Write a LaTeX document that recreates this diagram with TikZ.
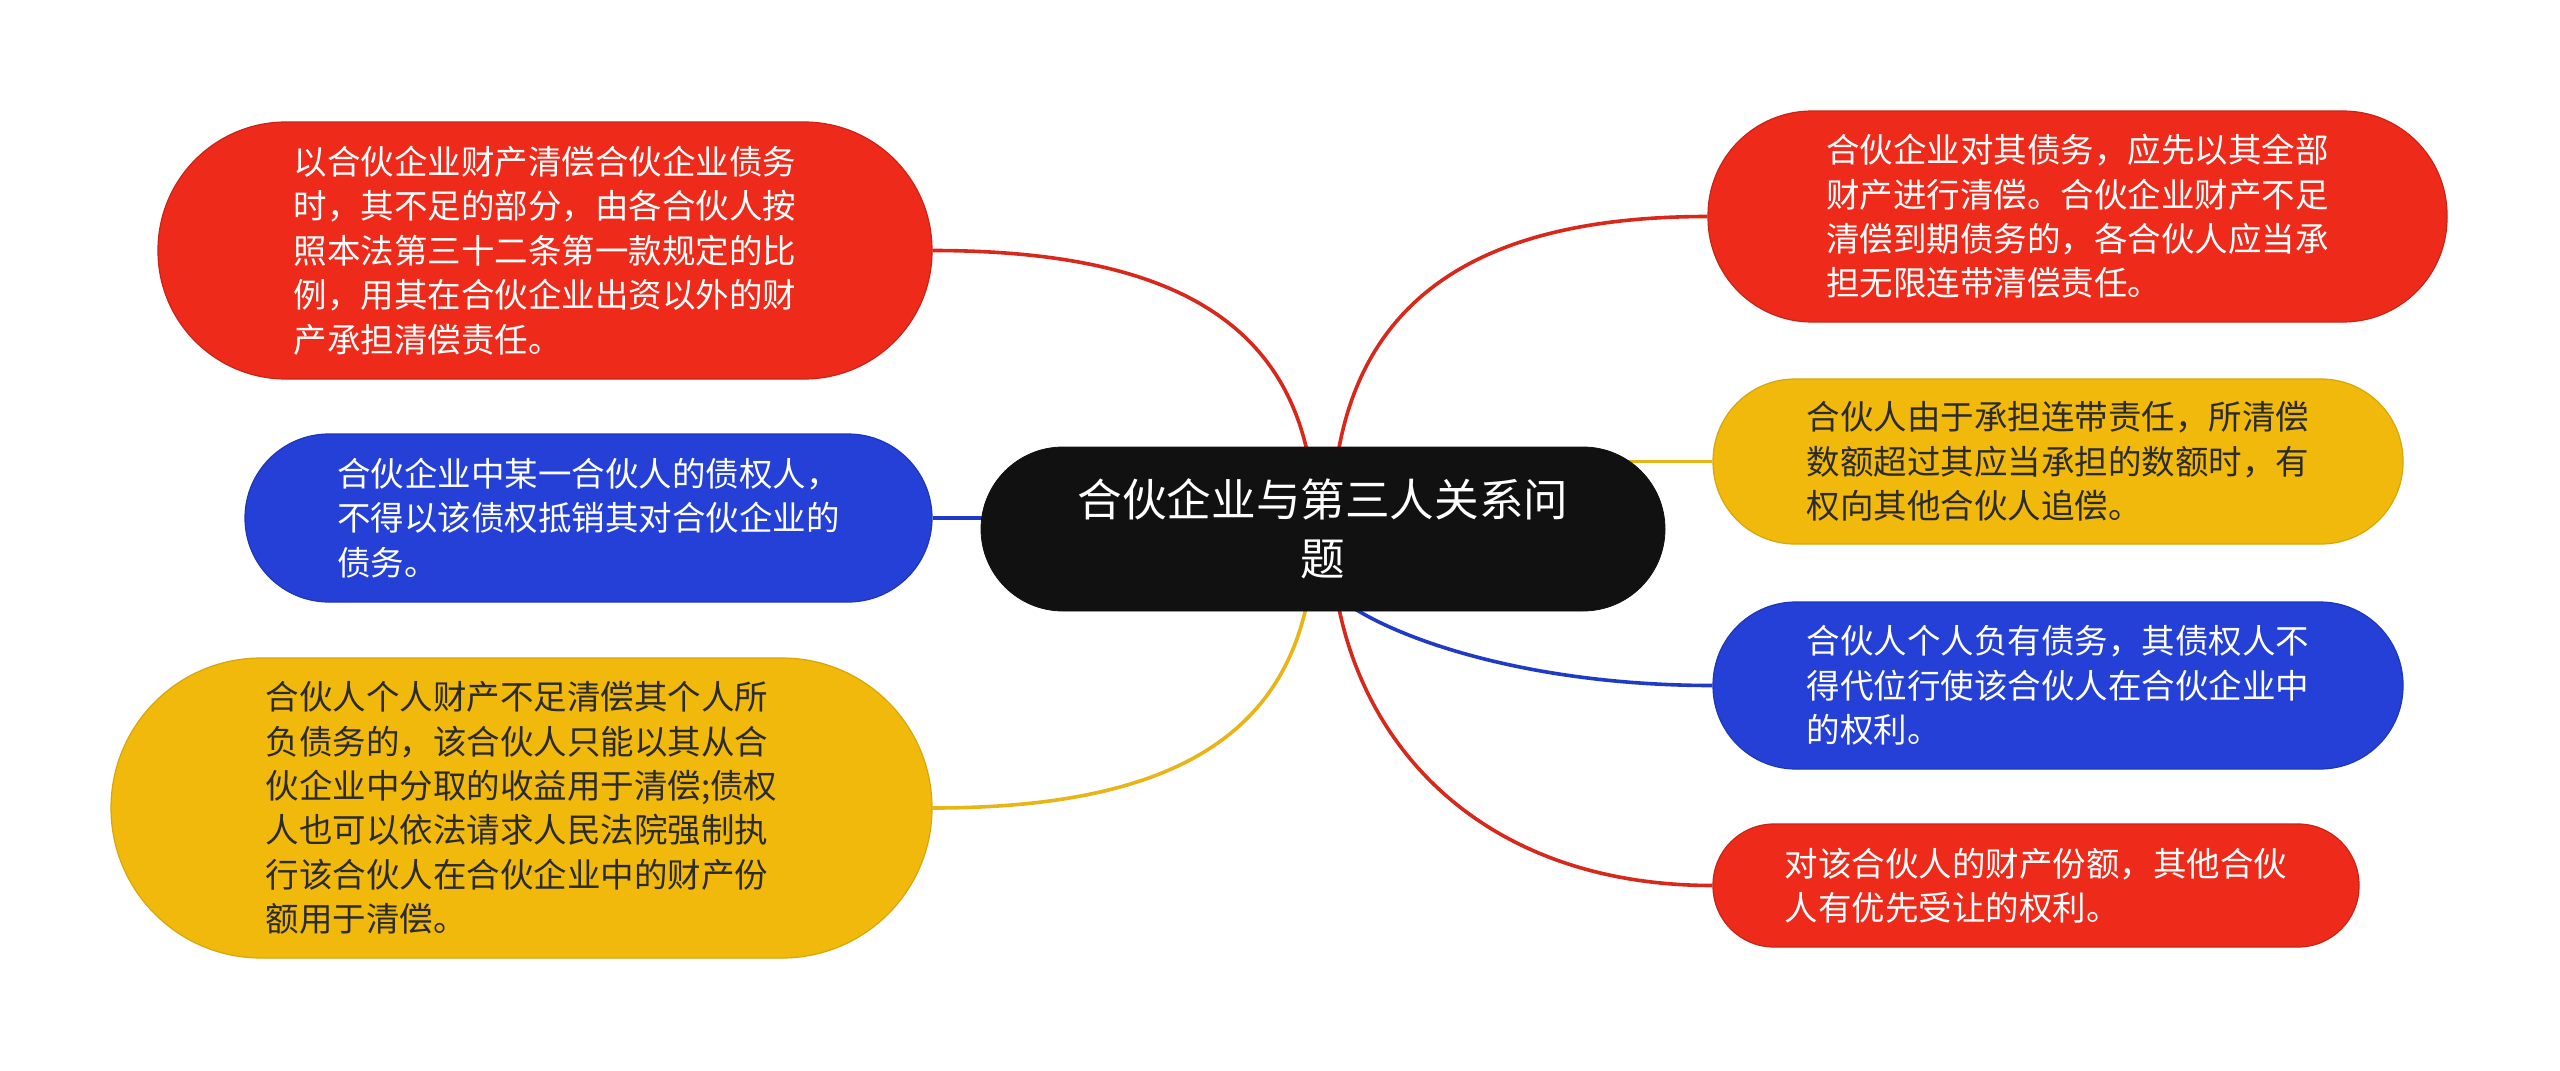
\documentclass[tikz,border=0pt]{standalone}
\usepackage{fontspec}
\setmainfont{Noto Sans CJK SC}
\usetikzlibrary{backgrounds}
\definecolor{cred}{HTML}{EE2A1B}
\definecolor{cblue}{HTML}{2440D6}
\definecolor{cyel}{HTML}{F0B90C}
\definecolor{croot}{HTML}{111111}
\definecolor{lred}{HTML}{D8281B}
\definecolor{lblue}{HTML}{1F3BC6}
\definecolor{lyel}{HTML}{E8B416}
\definecolor{ytext}{HTML}{2B2B2B}
\begin{document}
\begin{tikzpicture}[x=0.5pt,y=-0.5pt,
  box/.style={align=left, inner sep=0pt, font=\fontsize{16.75pt}{22.2pt}\selectfont, line width=0.6pt},
  redbox/.style={box, fill=cred, draw=cred!85!black, text=white},
  bluebox/.style={box, fill=cblue, draw=cblue!85!black, text=white},
  yelbox/.style={box, fill=cyel, draw=cyel!90!black, text=ytext},
  rootbox/.style={align=center, inner sep=0pt, fill=croot, draw=croot, text=white,
    font=\fontsize{22.3pt}{29.4pt}\selectfont},
  link/.style={line width=1.8pt}
]
\useasboundingbox (0,0) rectangle (2560,1071);

\node[rootbox, minimum width=342pt, minimum height=82pt, rounded corners=41pt] (root) at (1323,529)
  {合伙企业与第三人关系问\\题};

\node[redbox, minimum width=387pt, minimum height=128.5pt, rounded corners=64pt] (lt) at (545,250.5)
  {以合伙企业财产清偿合伙企业债务\\时，其不足的部分，由各合伙人按\\照本法第三十二条第一款规定的比\\例，用其在合伙企业出资以外的财\\产承担清偿责任。};
\node[bluebox, minimum width=343.5pt, minimum height=84pt, rounded corners=42pt] (lb) at (588.5,518)
  {合伙企业中某一合伙人的债权人，\\不得以该债权抵销其对合伙企业的\\债务。};
\node[yelbox, minimum width=410.5pt, minimum height=150pt, rounded corners=75pt] (ly) at (521.5,808)
  {合伙人个人财产不足清偿其个人所\\负债务的，该合伙人只能以其从合\\伙企业中分取的收益用于清偿;债权\\人也可以依法请求人民法院强制执\\行该合伙人在合伙企业中的财产份\\额用于清偿。};

\node[redbox, minimum width=369.5pt, minimum height=105.5pt, rounded corners=52pt] (rt) at (2077.5,216.5)
  {合伙企业对其债务，应先以其全部\\财产进行清偿。合伙企业财产不足\\清偿到期债务的，各合伙人应当承\\担无限连带清偿责任。};
\node[yelbox, minimum width=345pt, minimum height=82.5pt, rounded corners=41pt] (ry) at (2058,461.5)
  {合伙人由于承担连带责任，所清偿\\数额超过其应当承担的数额时，有\\权向其他合伙人追偿。};
\node[bluebox, minimum width=345pt, minimum height=83.5pt, rounded corners=41.5pt] (rb) at (2058,685.5)
  {合伙人个人负有债务，其债权人不\\得代位行使该合伙人在合伙企业中\\的权利。};
\node[redbox, minimum width=323pt, minimum height=61.5pt, rounded corners=30.5pt] (rr) at (2036,885.5)
  {对该合伙人的财产份额，其他合伙\\人有优先受让的权利。};

\coordinate (e1) at (1315,529);
\coordinate (e2) at (1332,529);
\coordinate (e3) at (1314,529);
\coordinate (e4) at (1331,529);
\coordinate (e5) at (1330,590);

\begin{scope}[on background layer]
\fill[white] (0,0) rectangle (2560,1071);
\draw[link, lred] (lt.east) .. controls +(250,0) and +(0,-200) .. (e1);
\draw[link, lred] (rt.west) .. controls +(-230,0) and +(0,-230) .. (e2);
\draw[link, lblue] (lb.east) -- (lb.east -| root.center);
\draw[link, lyel] (ry.west) -- (ry.west -| root.center);
\draw[link, lyel] (ly.east) .. controls +(250,0) and +(0,200) .. (e3);
\draw[link, lblue] (rb.west) .. controls +(-200,0) and +(40,40) .. (e5);
\draw[link, lred] (rr.west) .. controls +(-250,0) and +(0,190) .. (e4);
\end{scope}
\end{tikzpicture}
\end{document}
